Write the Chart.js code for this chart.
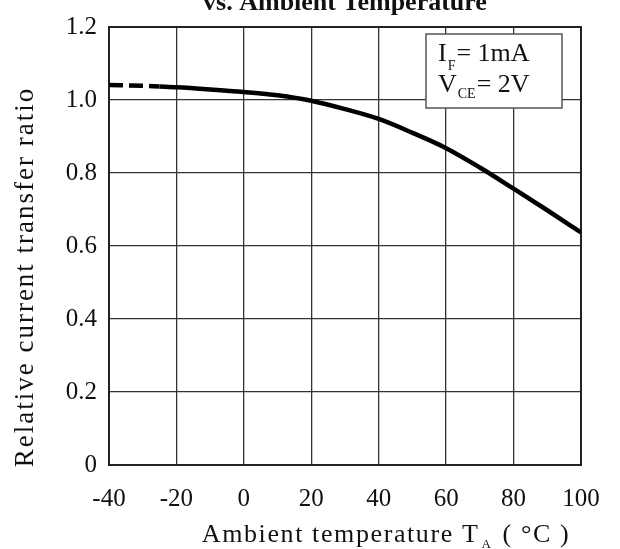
<!DOCTYPE html>
<html>
<head>
<meta charset="utf-8">
<script src="https://cdn.jsdelivr.net/npm/chart.js@4.4.1/dist/chart.umd.min.js"></script>
<style>
html,body{margin:0;padding:0;background:#fff;}
#wrap{width:620px;height:549px;}
</style>
</head>
<body>
<div id="wrap"><canvas id="c" width="620" height="549"></canvas></div>
<script>
// ---- data ----
const temps = [-40, -30, -25, -20, -10, 0, 10, 20, 30, 40, 50, 60, 70, 80, 90, 100];
const ratio = [1.041, 1.039, 1.037, 1.035, 1.029, 1.022, 1.013, 0.998, 0.975, 0.948, 0.910, 0.868, 0.815, 0.757, 0.698, 0.637];
const dashedUpTo = -25;           // curve drawn dashed below this temperature
const xTicks = [-40, -20, 0, 20, 40, 60, 80, 100];
const yTicks = [0, 0.2, 0.4, 0.6, 0.8, 1.0, 1.2];
const chartTitle = 'vs. Ambient Temperature';
const yTitle = 'Relative current transfer ratio';
const xTitleParts = ['Ambient temperature T', 'A', ' ( °C )'];
const legendLines = [['I', 'F', '= 1mA'], ['V', 'CE', '= 2V']];

const serif = '"Liberation Serif", "DejaVu Serif", serif';

const points = temps.map((t, i) => ({x: t, y: ratio[i]}));

const textPlugin = {
  id: 'texts',
  beforeDatasetsDraw(chart) {
    const {ctx, chartArea: a} = chart;
    ctx.save();
    ctx.strokeStyle = '#222';
    ctx.lineWidth = 2;
    ctx.strokeRect(a.left, a.top, a.right - a.left, a.bottom - a.top);
    ctx.restore();
  },
  afterDraw(chart) {
    const {ctx, chartArea: a} = chart;
    ctx.save();
    ctx.fillStyle = '#111';
    // title (cut at top)
    ctx.font = 'bold 26px ' + serif;
    ctx.textAlign = 'center';
    ctx.textBaseline = 'alphabetic';
    ctx.fillText(chartTitle, (a.left + a.right) / 2, 10);

    // y title
    ctx.save();
    ctx.translate(26, 277);
    ctx.rotate(-Math.PI / 2);
    ctx.font = '27px ' + serif;
    try { ctx.letterSpacing = '2px'; } catch (e) {}
    ctx.textAlign = 'center';
    ctx.textBaseline = 'middle';
    ctx.fillText(yTitle, 0, 0);
    ctx.restore();

    // x title with subscript
    ctx.save();
    try { ctx.letterSpacing = '1.6px'; } catch (e) {}
    ctx.textAlign = 'left';
    const big = '26px ' + serif, small = '13px ' + serif;
    ctx.font = big; const w1 = ctx.measureText(xTitleParts[0]).width;
    ctx.font = small; const w2 = ctx.measureText(xTitleParts[1]).width;
    ctx.font = big; const w3 = ctx.measureText(xTitleParts[2]).width;
    let x = 386 - (w1 + w2 + w3 + 4) / 2;
    ctx.font = big; ctx.fillText(xTitleParts[0], x, 542); x += w1 + 2;
    ctx.font = small; ctx.fillText(xTitleParts[1], x, 548); x += w2 + 2;
    ctx.font = big; ctx.fillText(xTitleParts[2], x, 542);
    ctx.restore();

    // legend box
    ctx.save();
    ctx.fillStyle = '#fff';
    ctx.fillRect(426, 34, 136, 74);
    ctx.strokeStyle = '#555';
    ctx.lineWidth = 1.5;
    ctx.strokeRect(426, 34, 136, 74);
    ctx.fillStyle = '#111';
    ctx.textAlign = 'left';
    const bases = [61, 92];
    const subDrop = [9, 6];
    legendLines.forEach((ln, i) => {
      let lx = 438;
      ctx.font = '26px ' + serif;
      ctx.fillText(ln[0], lx, bases[i]); lx += ctx.measureText(ln[0]).width + 1;
      ctx.font = '14px ' + serif;
      ctx.fillText(ln[1], lx, bases[i] + subDrop[i]); lx += ctx.measureText(ln[1]).width + 1;
      ctx.font = '26px ' + serif;
      ctx.fillText(ln[2], lx, bases[i]);
    });
    ctx.restore();
    ctx.restore();
  }
};

new Chart(document.getElementById('c'), {
  type: 'line',
  data: {
    datasets: [{
      data: points,
      borderColor: '#000',
      borderWidth: 4.5,
      pointRadius: 0,
      fill: false,
      cubicInterpolationMode: 'monotone',
      segment: {
        borderDash: ctx => ctx.p1.parsed.x <= dashedUpTo ? [14, 6] : undefined
      }
    }]
  },
  options: {
    responsive: false,
    animation: false,
    devicePixelRatio: 1,
    layout: {padding: {top: 19, right: 39, left: 0, bottom: 0}},
    plugins: {legend: {display: false}, tooltip: {enabled: false}, title: {display: false}},
    scales: {
      x: {
        type: 'linear',
        min: xTicks[0], max: xTicks[xTicks.length - 1],
        afterBuildTicks: s => { s.ticks = xTicks.map(v => ({value: v})); },
        afterFit: s => { s.height = 84; },
        ticks: {
          font: {family: serif, size: 25},
          color: '#111',
          padding: 19,
          maxRotation: 0,
          autoSkip: false,
          callback: v => String(v)
        },
        grid: {color: '#333', lineWidth: 1.3, drawTicks: false},
        border: {color: '#222', width: 2}
      },
      y: {
        type: 'linear',
        min: yTicks[0], max: yTicks[yTicks.length - 1],
        afterBuildTicks: s => { s.ticks = yTicks.map(v => ({value: v})); },
        afterFit: s => { s.width = 109; },
        ticks: {
          font: {family: serif, size: 25},
          color: '#111',
          padding: 12,
          autoSkip: false,
          callback: v => (v === 0 ? '0' : Number(v).toFixed(1))
        },
        grid: {color: '#333', lineWidth: 1.3, drawTicks: false},
        border: {color: '#222', width: 2}
      }
    }
  },
  plugins: [textPlugin]
});
</script>
</body>
</html>
